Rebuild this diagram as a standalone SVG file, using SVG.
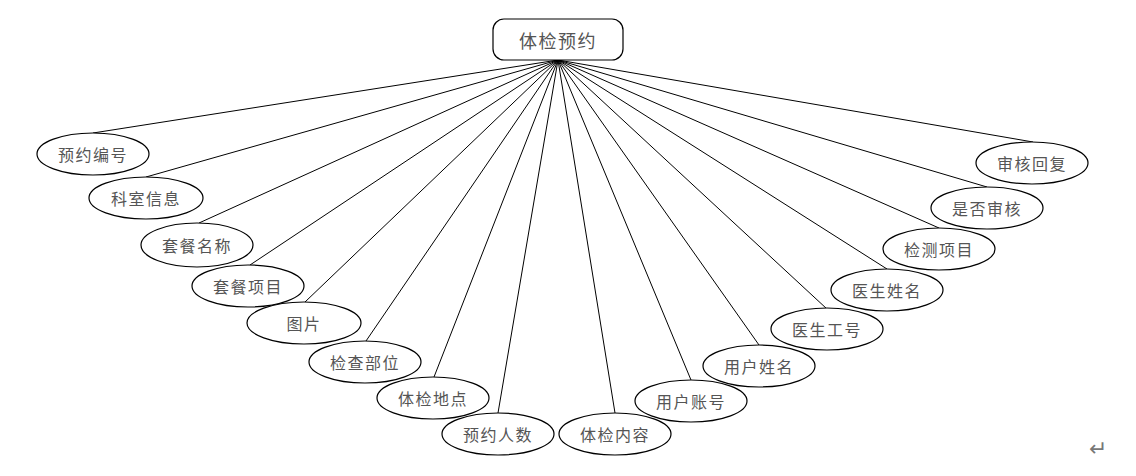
<svg xmlns="http://www.w3.org/2000/svg" width="1136" height="476" viewBox="0 0 1136 476">
<style>
.n ellipse{fill:#fff;stroke:#000;stroke-width:1.2}
.n rect{fill:#fff;stroke:#000;stroke-width:1.2}
.n text{font-family:"Noto Sans CJK SC","Noto Sans CJK JP",sans-serif;font-size:16px;fill:#555;text-anchor:middle;dominant-baseline:central;letter-spacing:1.5px}
#c line{stroke:#000;stroke-width:1}
</style>
<rect width="1136" height="476" fill="#fff"/>
<g id="c">
<line x1="558" y1="60" x2="93" y2="133"/>
<line x1="558" y1="60" x2="146" y2="177"/>
<line x1="558" y1="60" x2="199" y2="223"/>
<line x1="558" y1="60" x2="250" y2="265"/>
<line x1="558" y1="60" x2="305" y2="302"/>
<line x1="558" y1="60" x2="366" y2="341"/>
<line x1="558" y1="60" x2="434" y2="377"/>
<line x1="558" y1="60" x2="498" y2="413"/>
<line x1="558" y1="60" x2="615" y2="413"/>
<line x1="558" y1="60" x2="691" y2="380"/>
<line x1="558" y1="60" x2="759" y2="345"/>
<line x1="558" y1="60" x2="827" y2="309"/>
<line x1="558" y1="60" x2="887" y2="269"/>
<line x1="558" y1="60" x2="939" y2="228"/>
<line x1="558" y1="60" x2="987" y2="187"/>
<line x1="558" y1="60" x2="1033" y2="142"/>
</g>
<g id="root" class="n"><rect x="493" y="19" width="130" height="41" rx="11"/><text x="558" y="40" style="font-size:18px">体检预约</text></g>
<g id="n1" class="n"><ellipse cx="93" cy="154" rx="56" ry="21"/><text x="93" y="154">预约编号</text></g>
<g id="n2" class="n"><ellipse cx="146" cy="198" rx="57" ry="21"/><text x="146" y="198">科室信息</text></g>
<g id="n3" class="n"><ellipse cx="197" cy="245" rx="56" ry="22"/><text x="197" y="245">套餐名称</text></g>
<g id="n4" class="n"><ellipse cx="248" cy="286" rx="56" ry="21"/><text x="248" y="286">套餐项目</text></g>
<g id="n5" class="n"><ellipse cx="304" cy="323" rx="57" ry="21"/><text x="304" y="323">图片</text></g>
<g id="n6" class="n"><ellipse cx="365" cy="362" rx="56" ry="21"/><text x="365" y="362">检查部位</text></g>
<g id="n7" class="n"><ellipse cx="433" cy="398" rx="56" ry="21"/><text x="433" y="398">体检地点</text></g>
<g id="n8" class="n"><ellipse cx="498" cy="434" rx="56" ry="21"/><text x="498" y="434">预约人数</text></g>
<g id="n9" class="n"><ellipse cx="615" cy="434" rx="56" ry="21"/><text x="615" y="434">体检内容</text></g>
<g id="n10" class="n"><ellipse cx="691" cy="401" rx="56" ry="21"/><text x="691" y="401">用户账号</text></g>
<g id="n11" class="n"><ellipse cx="759" cy="366" rx="56" ry="21"/><text x="759" y="366">用户姓名</text></g>
<g id="n12" class="n"><ellipse cx="827" cy="329" rx="56" ry="21"/><text x="827" y="329">医生工号</text></g>
<g id="n13" class="n"><ellipse cx="887" cy="290" rx="56" ry="21"/><text x="887" y="290">医生姓名</text></g>
<g id="n14" class="n"><ellipse cx="939" cy="249" rx="56" ry="21"/><text x="939" y="249">检测项目</text></g>
<g id="n15" class="n"><ellipse cx="987" cy="208" rx="56" ry="21"/><text x="987" y="208">是否审核</text></g>
<g id="n16" class="n"><ellipse cx="1032" cy="163" rx="56" ry="21"/><text x="1032" y="163">审核回复</text></g>
<text x="1098" y="456" style="font-family:'DejaVu Sans',sans-serif;font-size:22px;fill:#777;text-anchor:middle">↵</text>
</svg>
